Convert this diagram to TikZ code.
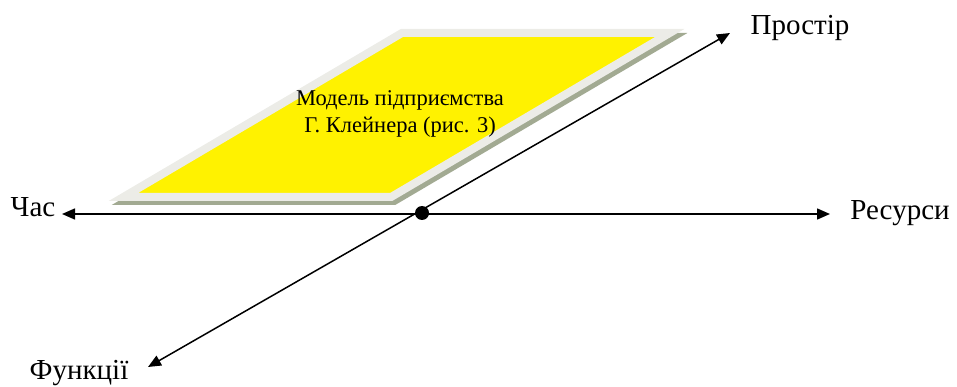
\documentclass[tikz,border=0pt]{standalone}
\usepackage{fontspec}
\setmainfont{Liberation Serif}
\usetikzlibrary{arrows.meta}
\definecolor{rim}{RGB}{236,236,231}
\definecolor{shade}{RGB}{162,170,146}

\begin{document}
\begin{tikzpicture}[x=1pt,y=-1pt,
  axis/.style={{Triangle[length=13pt,width=11pt]}-{Triangle[length=13pt,width=11pt]}, line width=1.5pt},
  lab/.style={font=\fontsize{29}{32}\selectfont, inner sep=0pt, anchor=base},
  txt/.style={font=\fontsize{22.5}{27}\selectfont, align=center, inner sep=0pt},
  plate/.style={line width=8pt, line join=miter, miter limit=10},
  dot/.style={circle, fill=black, inner sep=0pt, minimum size=14pt}]
\useasboundingbox (0,0) rectangle (957,387);
% plane of the model with its shadow
\draw[plate, draw=shade, shift={(3,4)}] (123.4,197) -- (401.9,33) -- (669.7,33) -- (391.1,197) -- cycle;
\draw[plate, draw=rim, fill=yellow] (123.4,197) -- (401.9,33) -- (669.7,33) -- (391.1,197) -- cycle;
\node[txt] (mdl) at (400,114) {Модель підприємства\\Г. Клейнера (рис. 3)};
% axes
\coordinate (l) at (62,214);
\coordinate (r) at (830,214);
\coordinate (f) at (148,367);
\coordinate (p) at (730,33);
\draw[axis] (l) -- (r);
\draw[axis] (f) -- (p);
\node[dot] (o) at (422,213) {};
\node[lab] (cas)  at (33,217)  {Час};
\node[lab] (res)  at (900,219) {Ресурси};
\node[lab] (pros) at (800,35)  {Простір};
\node[lab] (fun)  at (79,379)  {Функції};
\end{tikzpicture}
\end{document}
